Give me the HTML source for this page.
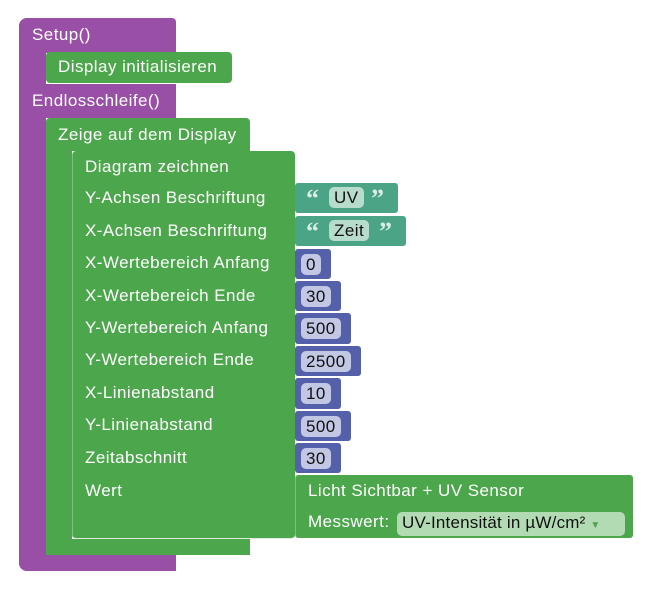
<!DOCTYPE html>
<html><head><meta charset="utf-8"><style>
body{margin:0;width:672px;height:605px;background:#fff;position:relative;overflow:hidden;font-family:"Liberation Sans",sans-serif;font-size:17px;letter-spacing:0.45px;color:#fff}
div{position:absolute;box-sizing:border-box}
.p{background:#9a4fa6}.g{background:#4ca64c}.t{background:#4aa485}.b{background:#5460aa}
.l{white-space:nowrap}
.f{background:#c2c7e3;color:#111;border-radius:5px;padding:0 5px;line-height:21px}
.s{background:#b8dccc;color:#111;border-radius:5px;padding:0 5px;line-height:21px}
.q{color:#d8eee4;font-weight:bold;font-size:26px;line-height:26px;font-family:"Liberation Serif",serif}
</style></head><body>
<div class="p" style="left:19px;top:18px;width:157px;height:35px;border-radius:8px 4px 0 0"></div>
<div class="p" style="left:19px;top:18px;width:27px;height:553px;border-radius:8px 0 0 8px"></div>
<div class="p" style="left:19px;top:84px;width:157px;height:34px"></div>
<div class="p" style="left:19px;top:545px;width:157px;height:26px;border-radius:0 0 0 8px"></div>
<div class="l" style="left:32px;top:25px">Setup()</div>
<div class="l" style="left:32px;top:91px">Endlosschleife()</div>
<div class="g" style="left:46px;top:52px;width:186px;height:31px;border-radius:4px"></div>
<div class="l" style="left:58px;top:57px">Display initialisieren</div>
<div class="g" style="left:46px;top:118px;width:204px;height:33px;border-radius:4px 4px 0 0"></div>
<div class="g" style="left:46px;top:118px;width:26px;height:437px;border-radius:4px 0 0 4px"></div>
<div class="g" style="left:46px;top:539px;width:204px;height:16px"></div>
<div class="l" style="left:58px;top:125px">Zeige auf dem Display</div>
<div class="g" style="left:72px;top:151px;width:223px;height:388px;border-radius:4px;border-left:1px solid #7cc27c;border-bottom:1px solid #dfeedf"></div>
<div class="l" style="left:85px;top:157px">Diagram zeichnen</div>
<div class="l" style="left:85px;top:188px">Y-Achsen Beschriftung</div>
<div class="l" style="left:85px;top:221px">X-Achsen Beschriftung</div>
<div class="l" style="left:85px;top:253px">X-Wertebereich Anfang</div>
<div class="l" style="left:85px;top:286px">X-Wertebereich Ende</div>
<div class="l" style="left:85px;top:318px">Y-Wertebereich Anfang</div>
<div class="l" style="left:85px;top:350px">Y-Wertebereich Ende</div>
<div class="l" style="left:85px;top:383px">X-Linienabstand</div>
<div class="l" style="left:85px;top:415px">Y-Linienabstand</div>
<div class="l" style="left:85px;top:448px">Zeitabschnitt</div>
<div class="l" style="left:85px;top:481px">Wert</div>
<div class="t" style="left:295px;top:183px;width:103px;height:30px;border-radius:3px"></div>
<div class="l q" style="left:306px;top:186px">“</div><div class="l s" style="left:329px;top:187px">UV</div><div class="l q" style="left:371px;top:186px">”</div>
<div class="t" style="left:295px;top:216px;width:111px;height:30px;border-radius:3px"></div>
<div class="l q" style="left:306px;top:219px">“</div><div class="l s" style="left:329px;top:220px">Zeit</div><div class="l q" style="left:379px;top:219px">”</div>
<div class="b" style="left:295px;top:249px;width:36px;height:30px;border-radius:3px"></div><div class="l f" style="left:301px;top:254px">0</div>
<div class="b" style="left:295px;top:281px;width:46px;height:30px;border-radius:3px"></div><div class="l f" style="left:301px;top:286px">30</div>
<div class="b" style="left:295px;top:313px;width:56px;height:31px;border-radius:3px"></div><div class="l f" style="left:301px;top:318px">500</div>
<div class="b" style="left:295px;top:346px;width:66px;height:30px;border-radius:3px"></div><div class="l f" style="left:301px;top:351px">2500</div>
<div class="b" style="left:295px;top:378px;width:46px;height:31px;border-radius:3px"></div><div class="l f" style="left:301px;top:383px">10</div>
<div class="b" style="left:295px;top:411px;width:56px;height:30px;border-radius:3px"></div><div class="l f" style="left:301px;top:416px">500</div>
<div class="b" style="left:295px;top:443px;width:46px;height:30px;border-radius:3px"></div><div class="l f" style="left:301px;top:448px">30</div>
<div class="g" style="left:295px;top:475px;width:338px;height:63px;border-radius:3px;border-left:1px solid #7cc27c"></div>
<div class="l" style="left:308px;top:481px">Licht Sichtbar + UV Sensor</div>
<div class="l" style="left:308px;top:512px">Messwert:</div>
<div class="l s" style="left:397px;top:512px;width:228px;background:#b3dbb3;letter-spacing:0.2px">UV-Intensität in µW/cm² <span style="color:#4ca64c;font-size:10px">▼</span></div>
</body></html>
